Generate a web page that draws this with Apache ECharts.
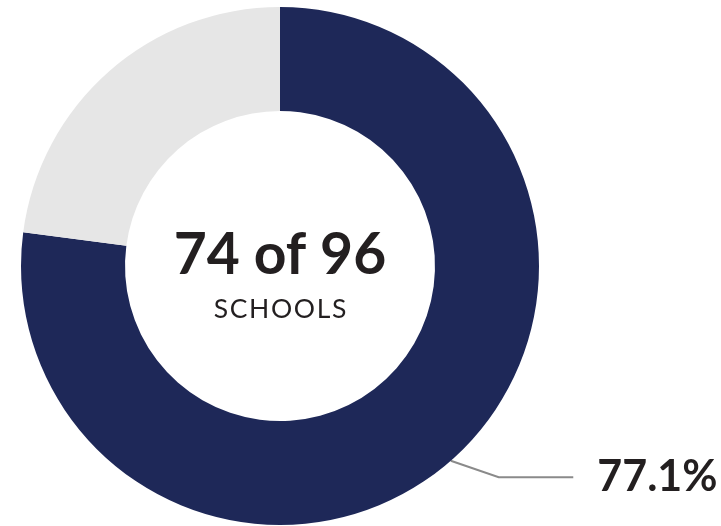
<!DOCTYPE html>
<html>
<head>
<meta charset="utf-8">
<script src="https://cdn.jsdelivr.net/npm/echarts@6/dist/echarts.min.js"></script>
<style>
  html, body { margin: 0; padding: 0; background: #ffffff; }
  #chart { width: 721px; height: 526px; }
</style>
</head>
<body>
<div id="chart"></div>
<script>
// Schools meeting the criterion vs. the rest
const categories = ['Schools meeting criterion', 'Other schools'];
const counts = [74, 22];
const sliceColors = ['#1e2858', '#e6e6e6'];
const unitLabel = 'SCHOOLS';

const total = counts.reduce((a, b) => a + b, 0);
const share = (counts[0] / total * 100).toFixed(1) + '%';

const chart = echarts.init(document.getElementById('chart'), null, { renderer: 'canvas' });

chart.setOption({
  animation: false,
  backgroundColor: '#ffffff',
  graphic: [
    {
      type: 'text',
      x: 280,
      y: 256,
      style: {
        text: counts[0] + ' of ' + total,
        font: 'bold 57px Lato',
        fill: '#231f20',
        align: 'center',
        verticalAlign: 'middle'
      },
      z: 10
    },
    {
      type: 'text',
      x: 280,
      y: 309,
      style: {
        text: unitLabel.split('').join('\u200A'),
        font: '26.5px Lato',
        fill: '#231f20',
        align: 'center',
        verticalAlign: 'middle'
      },
      z: 10
    }
  ],
  series: [
    {
      type: 'pie',
      center: [280, 266],
      radius: [155, 259],
      startAngle: 90,
      clockwise: true,
      silent: true,
      avoidLabelOverlap: false,
      data: categories.map((name, i) => ({
        name: name,
        value: counts[i],
        itemStyle: { color: sliceColors[i] },
        label: { show: i === 0 },
        labelLine: { show: i === 0 }
      })),
      label: {
        position: 'outside',
        alignTo: 'none',
        formatter: () => share,
        fontFamily: 'Lato',
        fontWeight: 'bold',
        fontSize: 43,
        color: '#231f20',
        padding: [0, 0, 0, 19]
      },
      labelLine: {
        show: true,
        length: 22,
        length2: 108,
        smooth: false,
        lineStyle: { color: '#8a8a8a', width: 2 }
      },
      labelLayout: function (params) {
        const pts = params.labelLinePoints;
        if (!pts) return {};
        // flatten the first leg of the leader line
        const dy = pts[1][1] - pts[0][1];
        const p1 = [pts[0][0] + dy * 2.9, pts[1][1]];
        return { labelLinePoints: [pts[0], p1, pts[2]] };
      }
    }
  ]
});
</script>
</body>
</html>
